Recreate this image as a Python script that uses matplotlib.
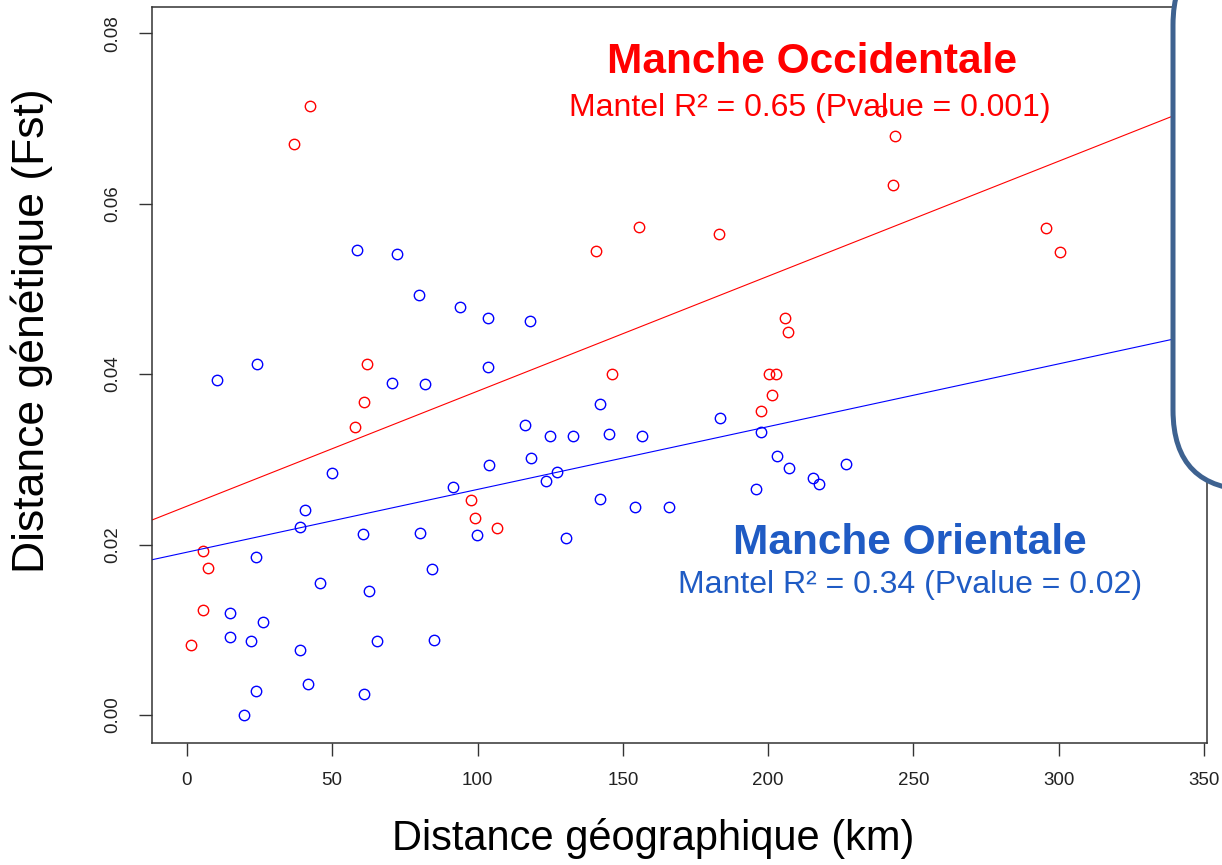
import matplotlib
matplotlib.use("Agg")
import matplotlib.pyplot as plt
from matplotlib.patches import FancyBboxPatch

# Manche Occidentale (red)
red_x = [1.4, 5.6, 5.6, 7.1, 36.8, 42.5, 57.9, 61.1, 62.0, 97.8, 99.3, 106.8,
         140.8, 146.3, 155.6, 183.1, 197.6, 200.3, 201.3, 202.7, 205.9, 206.8,
         239.0, 242.8, 243.8, 295.5, 300.5]
red_y = [0.0082, 0.0123, 0.0193, 0.0172, 0.0670, 0.0715, 0.0338, 0.0367, 0.0412,
         0.0252, 0.0231, 0.0219, 0.0544, 0.0400, 0.0573, 0.0564, 0.0357, 0.0400,
         0.0376, 0.0400, 0.0466, 0.0449, 0.0709, 0.0622, 0.0679, 0.0571, 0.0543]

# Manche Orientale (blue)
blue_x = [10.4, 15.0, 15.0, 19.7, 22.0, 23.7, 23.7, 24.2, 26.3, 38.9, 38.9, 40.6,
          41.6, 45.8, 49.9, 58.4, 60.7, 61.1, 62.5, 65.3, 70.5, 72.2, 79.8, 80.3,
          82.0, 84.4, 84.9, 91.7, 94.1, 99.8, 103.5, 103.5, 103.9, 116.2, 118.0,
          118.3, 123.4, 124.9, 127.3, 130.5, 132.8, 142.1, 142.1, 145.4, 154.2,
          156.6, 165.9, 183.6, 195.7, 197.6, 203.1, 207.3, 215.6, 217.6, 226.9]
blue_y = [0.0393, 0.0120, 0.0092, 0.0000, 0.0087, 0.0185, 0.0028, 0.0412, 0.0109,
          0.0221, 0.0076, 0.0241, 0.0036, 0.0155, 0.0284, 0.0546, 0.0212, 0.0025,
          0.0146, 0.0087, 0.0390, 0.0541, 0.0493, 0.0214, 0.0388, 0.0171, 0.0088,
          0.0268, 0.0479, 0.0211, 0.0466, 0.0408, 0.0293, 0.0340, 0.0462, 0.0302,
          0.0275, 0.0327, 0.0285, 0.0208, 0.0328, 0.0365, 0.0254, 0.0330, 0.0244,
          0.0327, 0.0244, 0.0349, 0.0265, 0.0332, 0.0304, 0.0290, 0.0278, 0.0271,
          0.0295]

# regression lines (intercept, slope)
red_fit = (0.0245, 0.000135)
blue_fit = (0.0191, 0.0000737)

x_ticks = [0, 50, 100, 150, 200, 250, 300, 350]
y_ticks = [0.00, 0.02, 0.04, 0.06, 0.08]

plt.rcParams['font.family'] = ['Liberation Sans', 'DejaVu Sans']

fig = plt.figure(figsize=(12.22, 8.65), dpi=100)
ax = fig.add_axes([0.1244, 0.1410, 0.8633, 0.8509])

ax.plot(red_x, red_y, 'o', mfc='none', mec='red', ms=7.5, mew=1.0)
ax.plot(blue_x, blue_y, 'o', mfc='none', mec='blue', ms=7.5, mew=1.0)
ax.axline((0, red_fit[0]), slope=red_fit[1], color='red', lw=0.8)
ax.axline((0, blue_fit[0]), slope=blue_fit[1], color='blue', lw=0.8)

ax.set_xlim(-12, 351)
ax.set_ylim(-0.0033, 0.0831)

ax.set_xticks(x_ticks, [str(v) for v in x_ticks], fontsize=13.5, color='#222222')
ax.set_yticks(y_ticks, ['%.2f' % v for v in y_ticks], fontsize=13.5,
              color='#222222', rotation=90, va='center')
ax.tick_params(axis='both', length=9.5, width=1.0, color='#333333')
ax.tick_params(axis='x', pad=11)
ax.tick_params(axis='y', pad=13)
for sp in ax.spines.values():
    sp.set_linewidth(1.1)
    sp.set_color('#333333')

ax.set_xlabel('Distance géographique (km)', fontsize=30)
ax.xaxis.set_label_coords(0.475, -0.102)
ax.set_ylabel('Distance génétique (Fst)', fontsize=32)
ax.yaxis.set_label_coords(-0.094, 0.56)

ax.text(215, 0.0766, 'Manche Occidentale', color='red', fontsize=30.5,
        fontweight='bold', ha='center', va='center', clip_on=False)
ax.text(214.3, 0.0713, 'Mantel R² = 0.65 (Pvalue = 0.001)', color='red',
        fontsize=23, ha='center', va='center', clip_on=False)
ax.text(248.7, 0.0202, 'Manche Orientale', color='#1f5bc4', fontsize=30.5,
        fontweight='bold', ha='center', va='center', clip_on=False)
ax.text(248.7, 0.0152, 'Mantel R² = 0.34 (Pvalue = 0.02)', color='#1f5bc4',
        fontsize=23, ha='center', va='center', clip_on=False)

# rounded callout box cut off at the right edge
box = FancyBboxPatch((11.73, 3.75), 3.0, 5.45,
                     boxstyle='round,pad=0,rounding_size=0.8',
                     transform=fig.dpi_scale_trans, fc='white', ec='#3e6290',
                     lw=3.6, clip_on=False, zorder=5)
fig.add_artist(box)

fig.savefig('out.png', dpi=100)
